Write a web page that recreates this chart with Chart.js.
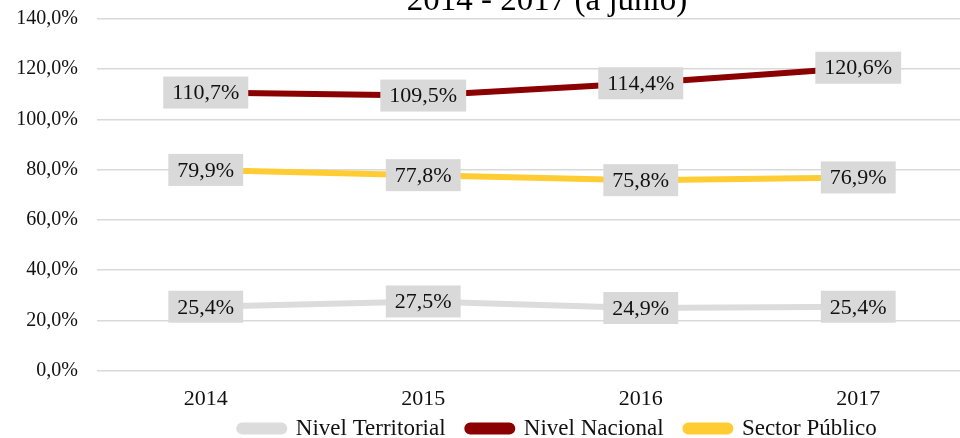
<!DOCTYPE html>
<html>
<head>
<meta charset="utf-8">
<script src="https://cdn.jsdelivr.net/npm/chart.js@4.4.1/dist/chart.umd.min.js"></script>
<style>
  html, body { margin: 0; padding: 0; background: #fff; overflow: hidden; }
  #wrap { position: relative; width: 1116px; height: 450px; }
</style>
</head>
<body>
<div id="wrap"><canvas id="chart"></canvas></div>
<script>
const years = ['2014', '2015', '2016', '2017'];
const territorial = [25.4, 27.5, 24.9, 25.4];
const nacional = [110.7, 109.5, 114.4, 120.6];
const sectorPublico = [79.9, 77.8, 75.8, 76.9];
const titleText = '2014 - 2017 (a junio)';

const serif = 'Liberation Serif';
const fmt = v => v.toFixed(1).replace('.', ',') + '%';

// title line (top part falls outside the page)
const titlePlugin = {
  id: 'topTitle',
  afterDraw(chart) {
    const ctx = chart.ctx;
    ctx.save();
    ctx.font = `33px "${serif}"`;
    ctx.fillStyle = '#000';
    ctx.textAlign = 'center';
    ctx.textBaseline = 'alphabetic';
    ctx.fillText(titleText, 547, 10);
    ctx.restore();
  }
};

// value boxes on every point
const valueLabels = {
  id: 'valueLabels',
  afterDatasetsDraw(chart) {
    const ctx = chart.ctx;
    ctx.save();
    ctx.font = `22px "${serif}"`;
    ctx.textAlign = 'center';
    ctx.textBaseline = 'middle';
    chart.data.datasets.forEach((ds, i) => {
      chart.getDatasetMeta(i).data.forEach((pt, j) => {
        const txt = fmt(ds.data[j]);
        const w = ctx.measureText(txt).width + 18;
        const h = 32;
        ctx.fillStyle = '#d9d9d9';
        ctx.fillRect(pt.x - w / 2, pt.y - h / 2, w, h);
        ctx.fillStyle = '#111';
        ctx.fillText(txt, pt.x, pt.y + 1);
      });
    });
    ctx.restore();
  }
};

const line = (label, data, color) => ({
  label, data,
  borderColor: color,
  backgroundColor: color,
  borderWidth: 6,
  pointRadius: 0,
  tension: 0,
  fill: false
});

new Chart(document.getElementById('chart'), {
  type: 'line',
  data: {
    labels: years,
    datasets: [
      line('Nivel Territorial', territorial, '#dcdcdc'),
      line('Nivel Nacional', nacional, '#8b0000'),
      line('Sector Público', sectorPublico, '#ffcd33')
    ]
  },
  options: {
    responsive: true,
    maintainAspectRatio: false,
    animation: false,
    layout: { padding: { top: 19, left: 0, right: 0, bottom: 0 } },
    plugins: {
      tooltip: { enabled: false },
      title: { display: false },
      legend: {
        position: 'bottom',
        labels: {
          boxWidth: 45,
          boxHeight: 6,
          useBorderRadius: true,
          borderRadius: 3,
          padding: 4.5,
          color: '#111',
          font: { family: serif, size: 23 },
          // wider gap between entries without pushing the row down
          generateLabels(chart) {
            const items = Chart.defaults.plugins.legend.labels.generateLabels(chart);
            items.forEach((it, i) => { if (i < items.length - 1) it.text += '   '; });
            return items;
          }
        }
      }
    },
    scales: {
      x: {
        offset: true,
        grid: { display: false, drawTicks: false },
        border: { display: false },
        ticks: { color: '#111', padding: 16, font: { family: serif, size: 22 } },
        afterFit: s => { s.height = 42; }
      },
      y: {
        min: 0,
        max: 140,
        ticks: {
          stepSize: 20,
          padding: 0,
          color: '#111',
          font: { family: serif, size: 20 },
          callback: v => fmt(v)
        },
        grid: { color: '#d9d9d9', lineWidth: 1.5, drawTicks: true, tickLength: 19, tickColor: 'rgba(0,0,0,0)' },
        border: { display: false },
        afterFit: s => { s.width = 97; }
      },
      spacer: {
        position: 'right',
        display: true,
        grid: { display: false },
        border: { display: false },
        ticks: { display: false },
        afterFit: s => { s.width = 149; }
      }
    }
  },
  plugins: [valueLabels, titlePlugin]
});
</script>
</body>
</html>
